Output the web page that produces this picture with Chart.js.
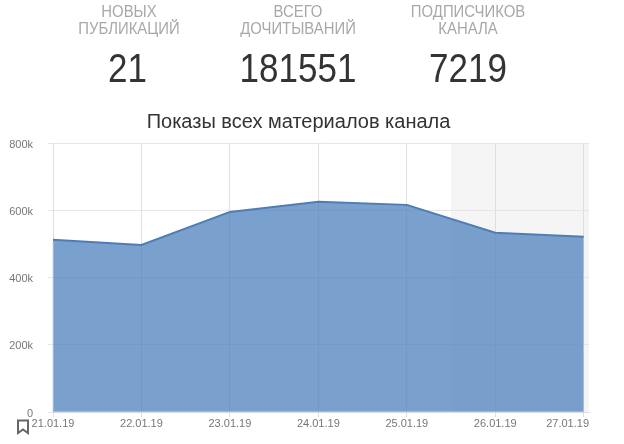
<!DOCTYPE html>
<html lang="ru">
<head>
<meta charset="utf-8">
<title>Показы всех материалов канала</title>
<script src="https://cdn.jsdelivr.net/npm/chart.js@4"></script>
<style>
html,body{margin:0;padding:0;background:#fff;overflow:hidden;}
body{width:624px;height:444px;position:relative;font-family:"Liberation Sans",Arial,sans-serif;}
#viewsChart{position:absolute;left:0;top:0;}
.kpi{position:absolute;top:3px;width:170px;text-align:center;}
.kpi .name{color:#a8a8a8;font-size:16px;line-height:17px;height:34px;transform:scaleX(0.93);}
.kpi .num{color:#333;font-size:40px;line-height:40px;margin-top:11px;transform:scaleX(0.875);}
.title{position:absolute;left:0;width:597px;top:109px;text-align:center;font-size:20px;line-height:24px;color:#333;}
.mark{position:absolute;left:16px;top:419px;}
</style>
</head>
<body>
<canvas id="viewsChart" width="624" height="444"></canvas>
<div class="kpi" style="left:44px"><div class="name">НОВЫХ<br>ПУБЛИКАЦИЙ</div><div class="num" style="margin-left:-3px">21</div></div>
<div class="kpi" style="left:213px"><div class="name">ВСЕГО<br>ДОЧИТЫВАНИЙ</div><div class="num">181551</div></div>
<div class="kpi" style="left:383px"><div class="name">ПОДПИСЧИКОВ<br>КАНАЛА</div><div class="num">7219</div></div>
<div class="title">Показы всех материалов канала</div>
<svg class="mark" width="14" height="16" viewBox="0 0 14 16"><path d="M2 1.5H12V14L7 10.5 2 14Z" fill="none" stroke="#666" stroke-width="2"/></svg>
<script>
const aDates=["21.01.19","22.01.19","23.01.19","24.01.19","25.01.19","26.01.19","27.01.19"];
const aViews=[512000,497000,595000,625000,616000,533000,521000];
const aYTicks=[0,200000,400000,600000,800000];
const nWeekendStart=4.5;
const nXMax=6.06;

// grey weekend band behind the grid, and x labels (last one is pushed inside the plot)
const weekendBand={
    id:"weekendBand",
    beforeDraw(chart){
        const {ctx,chartArea,scales}=chart;
        const nLeft=scales.x.getPixelForValue(nWeekendStart);
        ctx.save();
        ctx.fillStyle="#f5f5f5";
        ctx.fillRect(nLeft,chartArea.top,chartArea.right-nLeft,chartArea.bottom-chartArea.top);
        ctx.restore();
    },
    afterDraw(chart){
        const {ctx,chartArea,scales}=chart;
        ctx.save();
        // pale edge along the left and bottom of the filled area
        ctx.strokeStyle="#c9d6e6";
        ctx.lineWidth=1;
        ctx.beginPath();
        ctx.moveTo(scales.x.getPixelForValue(0),scales.y.getPixelForValue(aViews[0])+2);
        ctx.lineTo(scales.x.getPixelForValue(0),chartArea.bottom);
        ctx.lineTo(scales.x.getPixelForValue(aDates.length-1),chartArea.bottom);
        ctx.stroke();
        ctx.font="11px 'Liberation Sans'";
        ctx.fillStyle="#777";
        ctx.textBaseline="middle";
        aDates.forEach((sDate,i)=>{
            const bLast=i===aDates.length-1;
            ctx.textAlign=bLast?"right":"center";
            ctx.fillText(sDate,bLast?chartArea.right:scales.x.getPixelForValue(i),chartArea.bottom+12);
        });
        ctx.restore();
    }
};

new Chart(document.getElementById("viewsChart").getContext("2d"),{
    type:"line",
    data:{
        datasets:[{
            data:aViews.map((v,i)=>({x:i,y:v})),
            fill:"origin",
            backgroundColor:"rgba(80,130,190,0.76)",
            borderColor:"#4f7db3",
            borderWidth:2,
            pointRadius:0,
            tension:0
        }]
    },
    options:{
        responsive:false,
        animation:false,
        layout:{padding:{top:143,right:35,left:0,bottom:0}},
        plugins:{legend:{display:false},tooltip:{enabled:false},title:{display:false}},
        scales:{
            x:{
                type:"linear",
                min:0,
                max:nXMax,
                grid:{color:"#dedede",tickLength:5},
                border:{color:"#dedede"},
                ticks:{display:false,stepSize:1,includeBounds:false},
                afterFit(scale){scale.height=32;}
            },
            y:{
                min:0,
                max:800000,
                grid:{color:"#e6e6e6",tickLength:5},
                border:{color:"#dedede"},
                afterBuildTicks(scale){scale.ticks=aYTicks.map(v=>({value:v}));},
                ticks:{
                    padding:15,
                    labelOffset:1.5,
                    color:"#777",
                    font:{family:"Liberation Sans",size:11},
                    callback:v=>v===0?"0":(v/1000)+"k"
                },
                afterFit(scale){scale.width=53;scale.paddingTop=0;scale.paddingBottom=0;}
            }
        }
    },
    plugins:[weekendBand]
});
</script>
</body>
</html>
